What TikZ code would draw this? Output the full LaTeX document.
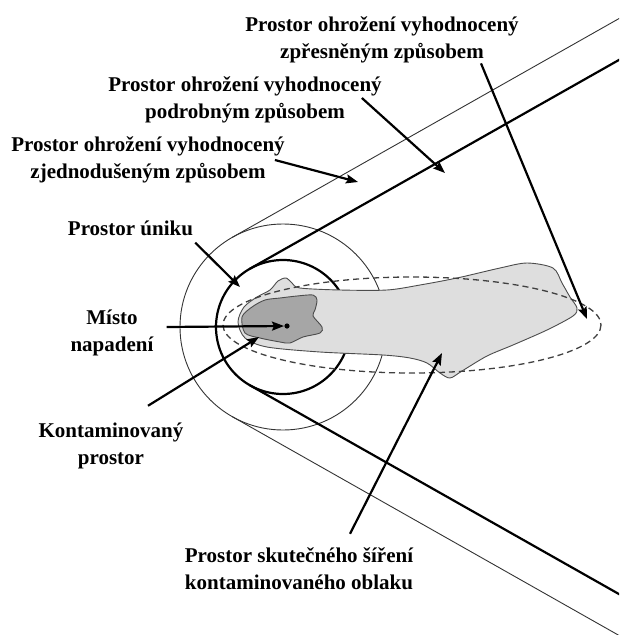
\documentclass[tikz,border=0pt]{standalone}
\usepackage{fontspec}
\setmainfont{Liberation Serif}
\usetikzlibrary{arrows.meta,calc}

\tikzset{
	lbl/.style={font=\fontsize{21}{27}\selectfont\bfseries, align=center, inner sep=0pt},
	arr/.style={line width=2.2pt, -{Stealth[length=12pt,width=9pt,inset=2pt]}},
	zone/.style={line width=2.2pt},
	zonethin/.style={line width=0.9pt, draw=black!80},
}

\begin{document}
\begin{tikzpicture}[x=1pt, y=-1pt]
	\useasboundingbox (0,0) rectangle (619,635);
	\clip (0,0) rectangle (619,635);
	\coordinate (C) at (283,327);
	
	% circles and bands
	\draw[zonethin] (C) circle (103);
	\draw[zone] (C) circle (67);
	\draw[zonethin] (C) ++(240.5:103) -- ++(-29.5:500);
	\draw[zonethin] (C) ++(119.5:103) -- ++(29.5:500);
	\draw[zone] (C) ++(240.5:67) -- ++(-29.5:500);
	\draw[zone] (C) ++(119.5:67) -- ++(29.5:500);
	
	% cloud
	\draw[fill=black!13, draw=black!70, line width=0.9pt] plot[smooth cycle, tension=0.5] coordinates {
		(238,322) (244,307) (257,297) (270,290) (278,281) (286,278) (292,283) (300,288)
		(340,290) (387,290) (420,285) (457,278) (500,268) (527,263) (553,268) (562,283)
		(570,297) (577,308) (573,316) (547,330) (513,345) (487,356) (462,371) (450,378)
		(440,373) (427,363) (410,358) (383,355) (320,352) (267,347) (245,338)};
	\draw[fill=black!35, draw=black!70, line width=0.9pt] plot[smooth cycle, tension=0.5] coordinates {
		(242,317) (252,307) (265,300) (280,298) (297,296) (313,295) (317,300) (315,310)
		(313,316) (322,327) (320,333) (303,337) (290,343) (280,342) (260,338) (245,333)};
	\draw[dashed, dash pattern=on 6pt off 4pt, line width=1.3pt, black!75] (412,325) ellipse (189 and 48);
	\fill (287,326) circle (2.6);
	
	\node[lbl] (zprL) at (382,40) {Prostor ohrožení vyhodnocený\\zpřesněným způsobem};
	\node[lbl] (podL) at (245,100) {Prostor ohrožení vyhodnocený\\podrobným způsobem};
	\node[lbl] (zjeL) at (148,160) {Prostor ohrožení vyhodnocený\\zjednodušeným způsobem};
	\node[lbl] (unikL) at (130.5,228) {Prostor úniku};
	\node[lbl] (mistoL) at (112,333) {Místo\\napadení};
	\node[lbl] (kontL) at (111,446) {Kontaminovaný\\prostor};
	\node[lbl] (sireniL) at (299,569) {Prostor skutečného šíření\\kontaminovaného oblaku};
	
	\coordinate (zprTip) at (587,319);
	\coordinate (podTip) at (445,173);
	\coordinate (zjeTip) at (358,182);
	\coordinate (unikTip) at (240,287);
	\coordinate (mistoTip) at (284,326);
	\coordinate (kontTip) at (259,337);
	\coordinate (sireniTip) at (442,353);
	
	\draw[arr] ($(zprL.south)+(99,0)$) -- (zprTip);
	\draw[arr] ($(podL.east)+(-20,-2)$) -- (podTip);
	\draw[arr] ($(zjeL.east)+(-10,0)$) -- (zjeTip);
	\draw[arr] ($(unikL.south east)+(2,7)$) -- (unikTip);
	\draw[arr] ($(mistoL.east)+(13,-6)$) -- (mistoTip);
	\draw[arr] ($(kontL.north)+(37,-17)$) -- (kontTip);
	\draw[arr] ($(sireniL.north)+(51,-14)$) -- (sireniTip);
\end{tikzpicture}
\end{document}
